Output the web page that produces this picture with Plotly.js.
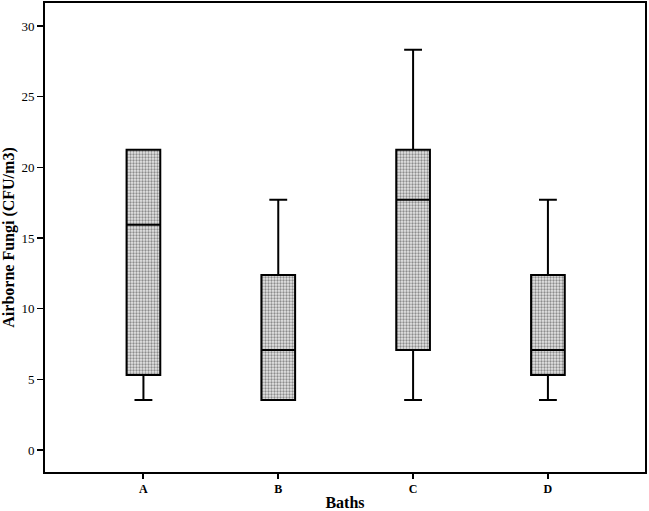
<!DOCTYPE html>
<html>
<head>
<meta charset="utf-8">
<script src="https://cdn.plot.ly/plotly-3.0.1.min.js"></script>
<style>
  html, body { margin: 0; padding: 0; background: #fff; }
  #boxChart { width: 649px; height: 511px; }
</style>
</head>
<body>
<div id="boxChart"></div>
<script>
// airborne fungi per bath (CFU/m3)
var baths = ['A', 'B', 'C', 'D'];
var lowWhisker = [3.54, 3.54, 3.54, 3.54];
var q1 = [5.31, 3.54, 7.08, 5.31];
var medians = [15.93, 7.08, 17.70, 7.08];
var q3 = [21.24, 12.39, 21.24, 12.39];
var highWhisker = [21.24, 17.70, 28.32, 17.70];
var yTicks = [0, 5, 10, 15, 20, 25, 30];

var serif = 'Liberation Serif, Times New Roman, serif';

// box height for the hatched fill underneath
var iqr = q3.map(function (v, i) { return v - q1[i]; });

var data = [
// dotted texture like the SPSS fill
{
  type: 'bar',
  x: baths,
  y: iqr,
  base: q1,
  width: 0.25,
  marker: {
    color: '#e6e6e6',
    line: { width: 0 },
    pattern: { shape: '.', size: 3, solidity: 0.45, fgcolor: '#8c8c8c', bgcolor: '#e6e6e6' }
  },
  hoverinfo: 'skip',
  showlegend: false
},
{
  type: 'box',
  x: baths,
  q1: q1,
  median: medians,
  q3: q3,
  lowerfence: lowWhisker,
  upperfence: highWhisker,
  boxpoints: false,
  width: 0.25,
  whiskerwidth: 0.53,
  fillcolor: 'rgba(0,0,0,0)',
  line: { color: '#000', width: 2 },
  hoverinfo: 'x+y',
  showlegend: false
}
];

var layout = {
  width: 649,
  height: 511,
  margin: { l: 45, r: 4, t: 3, b: 39 },
  paper_bgcolor: '#fff',
  plot_bgcolor: '#fff',
  bargap: 0,
  xaxis: {
    type: 'category',
    range: [-0.73, 3.72],
    showline: true,
    mirror: true,
    linecolor: '#000',
    linewidth: 2,
    ticks: 'outside',
    ticklen: 5,
    tickwidth: 2,
    tickcolor: '#000',
    showgrid: false,
    tickfont: { family: serif, size: 12, color: '#000', weight: 'bold' },
    title: {
      text: 'Baths',
      font: { family: serif, size: 16, color: '#000', weight: 'bold' },
      standoff: 1
    },
    automargin: false
  },
  yaxis: {
    range: [-1.56, 31.63],
    tickvals: yTicks,
    showline: true,
    mirror: true,
    linecolor: '#000',
    linewidth: 2,
    ticks: 'outside',
    ticklen: 6,
    tickwidth: 1.5,
    tickcolor: '#000',
    showgrid: false,
    zeroline: false,
    tickfont: { family: serif, size: 13, color: '#000' },
    title: {
      text: 'Airborne Fungi (CFU/m3)',
      font: { family: serif, size: 16, color: '#000', weight: 'bold' },
      standoff: 4
    },
    automargin: false
  }
};

Plotly.newPlot('boxChart', data, layout, { displayModeBar: false, staticPlot: true });
</script>
</body>
</html>
